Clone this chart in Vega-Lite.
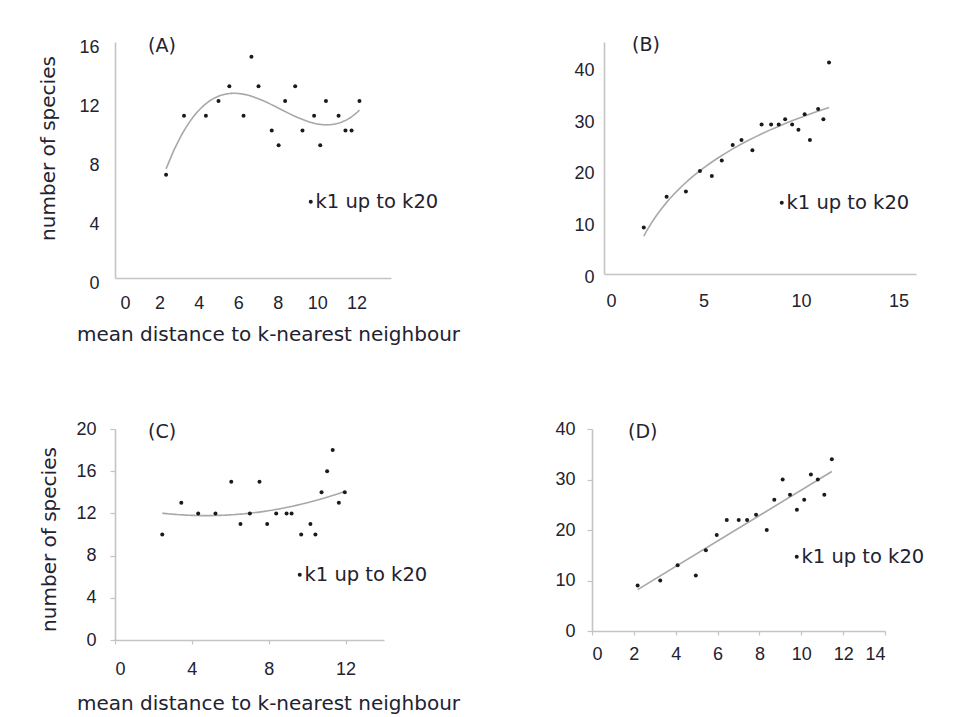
{
  "$schema": "https://vega.github.io/schema/vega-lite/v6.json",
  "background": "white",
  "padding": {"left": 38, "top": 36, "right": 5, "bottom": 5},
  "config": {
    "view": {"stroke": null},
    "axis": {
      "grid": false,
      "domainColor": "#c4c4c4",
      "domainWidth": 1.6,
      "tickColor": "#c4c4c4",
      "tickWidth": 1.2,
      "labelFont": "Liberation Sans",
      "labelFontSize": 18,
      "labelColor": "#222230",
      "titleFont": "DejaVu Sans",
      "titleFontSize": 20,
      "titleFontWeight": "normal",
      "titleColor": "#222230"
    },
    "legend": {
      "labelFont": "DejaVu Sans",
      "labelFontSize": 19.5,
      "labelColor": "#222230",
      "symbolType": "circle",
      "symbolSize": 16,
      "symbolStrokeWidth": 0,
      "padding": 0,
      "labelOffset": -5
    },
    "title": {
      "font": "DejaVu Sans",
      "fontSize": 19,
      "fontWeight": "normal",
      "color": "#222230",
      "anchor": "start",
      "frame": "group",
      "offset": 0,
      "baseline": "middle"
    }
  },
  "datasets": {
    "A": [
      {"d": 2.59, "s": 7}, {"d": 3.50, "s": 11}, {"d": 4.61, "s": 11}, {"d": 5.25, "s": 12},
      {"d": 5.80, "s": 13}, {"d": 6.52, "s": 11}, {"d": 6.92, "s": 15}, {"d": 7.28, "s": 13},
      {"d": 7.95, "s": 10}, {"d": 8.30, "s": 9}, {"d": 8.63, "s": 12}, {"d": 9.14, "s": 13},
      {"d": 9.51, "s": 10}, {"d": 10.10, "s": 11}, {"d": 10.41, "s": 9}, {"d": 10.70, "s": 12},
      {"d": 11.34, "s": 11}, {"d": 11.69, "s": 10}, {"d": 12.00, "s": 10}, {"d": 12.40, "s": 12}
    ],
    "B": [
      {"d": 2.04, "s": 9}, {"d": 3.21, "s": 15}, {"d": 4.20, "s": 16}, {"d": 4.92, "s": 20},
      {"d": 5.53, "s": 19}, {"d": 6.04, "s": 22}, {"d": 6.60, "s": 25}, {"d": 7.05, "s": 26},
      {"d": 7.61, "s": 24}, {"d": 8.08, "s": 29}, {"d": 8.57, "s": 29}, {"d": 8.96, "s": 29},
      {"d": 9.29, "s": 30}, {"d": 9.65, "s": 29}, {"d": 9.97, "s": 28}, {"d": 10.29, "s": 31},
      {"d": 10.56, "s": 26}, {"d": 10.98, "s": 32}, {"d": 11.25, "s": 30}, {"d": 11.54, "s": 41}
    ],
    "C": [
      {"d": 2.46, "s": 10}, {"d": 3.45, "s": 13}, {"d": 4.33, "s": 12}, {"d": 5.23, "s": 12},
      {"d": 6.05, "s": 15}, {"d": 6.53, "s": 11}, {"d": 7.02, "s": 12}, {"d": 7.52, "s": 15},
      {"d": 7.92, "s": 11}, {"d": 8.39, "s": 12}, {"d": 8.93, "s": 12}, {"d": 9.19, "s": 12},
      {"d": 9.69, "s": 10}, {"d": 10.17, "s": 11}, {"d": 10.43, "s": 10}, {"d": 10.75, "s": 14},
      {"d": 11.04, "s": 16}, {"d": 11.33, "s": 18}, {"d": 11.65, "s": 13}, {"d": 11.96, "s": 14}
    ],
    "D": [
      {"d": 2.18, "s": 9}, {"d": 3.26, "s": 10}, {"d": 4.09, "s": 13}, {"d": 4.96, "s": 11},
      {"d": 5.44, "s": 16}, {"d": 5.96, "s": 19}, {"d": 6.44, "s": 22}, {"d": 7.01, "s": 22},
      {"d": 7.41, "s": 22}, {"d": 7.84, "s": 23}, {"d": 8.35, "s": 20}, {"d": 8.71, "s": 26},
      {"d": 9.11, "s": 30}, {"d": 9.46, "s": 27}, {"d": 9.79, "s": 24}, {"d": 10.14, "s": 26},
      {"d": 10.46, "s": 31}, {"d": 10.79, "s": 30}, {"d": 11.10, "s": 27}, {"d": 11.46, "s": 34}
    ]
  },
  "bounds": "flush",
  "spacing": 387,
  "resolve": {"scale": {"color": "independent"}, "legend": {"color": "independent"}},
  "vconcat": [
    {
      "bounds": "flush",
      "spacing": 213,
      "resolve": {"scale": {"color": "independent"}, "legend": {"color": "independent"}},
      "hconcat": [
        {
          "width": 276, "height": 236,
          "title": {"text": "(A)", "dx": 33, "dy": 22},
          "data": {"name": "A"},
          "layer": [
            {
              "transform": [{"regression": "s", "on": "d", "method": "poly", "order": 3}],
              "mark": {"type": "line", "color": "#a8a8a8", "strokeWidth": 1.6},
              "encoding": {
                "x": {"field": "d", "type": "quantitative"},
                "y": {"field": "s", "type": "quantitative"}
              }
            },
            {
              "mark": {"type": "point", "filled": true, "shape": "circle", "size": 16, "opacity": 1},
              "encoding": {
                "x": {"field": "d", "type": "quantitative", "scale": {"domain": [0, 13.2]},
                  "axis": {"title": "mean distance to k-nearest neighbour", "values": [0, 2, 4, 6, 8, 10, 12], "ticks": false, "labelPadding": 16, "labelOffset": 5, "titlePadding": 12, "titleX": 153}},
                "y": {"field": "s", "type": "quantitative", "scale": {"domain": [0, 16]},
                  "axis": {"title": "number of species", "values": [0, 4, 8, 12, 16], "ticks": false, "labelPadding": 16, "labelOffset": 5, "titlePadding": 20, "titleY": 106}},
                "color": {"datum": "k1 up to k20", "type": "nominal", "scale": {"range": ["#1a1a1a"]},
                  "legend": {"title": null, "orient": "none", "legendX": 186, "legendY": 150}}
              }
            }
          ]
        },
        {
          "width": 312, "height": 232,
          "title": {"text": "(B)", "dx": 28, "dy": 17},
          "data": {"name": "B"},
          "layer": [
            {
              "transform": [{"regression": "s", "on": "d", "method": "log"}],
              "mark": {"type": "line", "color": "#a8a8a8", "strokeWidth": 1.6},
              "encoding": {
                "x": {"field": "d", "type": "quantitative"},
                "y": {"field": "s", "type": "quantitative"}
              }
            },
            {
              "mark": {"type": "point", "filled": true, "shape": "circle", "size": 16, "opacity": 1},
              "encoding": {
                "x": {"field": "d", "type": "quantitative", "scale": {"domain": [0, 15]},
                  "axis": {"title": null, "values": [0, 5, 10, 15], "ticks": false, "labelPadding": 18, "labelOffset": 2}},
                "y": {"field": "s", "type": "quantitative", "scale": {"domain": [0, 45]},
                  "axis": {"title": null, "values": [0, 10, 20, 30, 40], "ticks": false, "labelPadding": 10, "labelOffset": 3}},
                "color": {"datum": "k1 up to k20", "type": "nominal", "scale": {"range": ["#1a1a1a"]},
                  "legend": {"title": null, "orient": "none", "legendX": 168, "legendY": 151}}
              }
            }
          ]
        }
      ]
    },
    {
      "bounds": "flush",
      "spacing": 208,
      "resolve": {"scale": {"color": "independent"}, "legend": {"color": "independent"}},
      "hconcat": [
        {
          "width": 269, "height": 211,
          "title": {"text": "(C)", "dx": 33, "dy": 26},
          "data": {"name": "C"},
          "layer": [
            {
              "transform": [{"regression": "s", "on": "d", "method": "poly", "order": 2}],
              "mark": {"type": "line", "color": "#a8a8a8", "strokeWidth": 1.6},
              "encoding": {
                "x": {"field": "d", "type": "quantitative"},
                "y": {"field": "s", "type": "quantitative"}
              }
            },
            {
              "mark": {"type": "point", "filled": true, "shape": "circle", "size": 16, "opacity": 1},
              "encoding": {
                "x": {"field": "d", "type": "quantitative", "scale": {"domain": [0, 14]},
                  "axis": {"title": "mean distance to k-nearest neighbour", "values": [0, 2, 4, 6, 8, 10, 12, 14],
                    "labelExpr": "datum.value % 4 == 0 || datum.value == 14 ? datum.label : ''",
                    "tickSize": 4, "labelPadding": 16, "titlePadding": 15, "titleX": 153}},
                "y": {"field": "s", "type": "quantitative", "scale": {"domain": [0, 20]},
                  "axis": {"title": "number of species", "values": [0, 2, 4, 6, 8, 10, 12, 14, 16, 18, 20],
                    "labelExpr": "datum.value % 4 == 0 ? datum.label : ''",
                    "tickSize": 5, "labelPadding": 14, "titlePadding": 16, "titleY": 110}},
                "color": {"datum": "k1 up to k20", "type": "nominal", "scale": {"range": ["#1a1a1a"]},
                  "legend": {"title": null, "orient": "none", "legendX": 175, "legendY": 136}}
              }
            }
          ]
        },
        {
          "width": 293, "height": 202,
          "title": {"text": "(D)", "dx": 36, "dy": 26},
          "data": {"name": "D"},
          "layer": [
            {
              "transform": [{"regression": "s", "on": "d", "method": "linear"}],
              "mark": {"type": "line", "color": "#a8a8a8", "strokeWidth": 1.6},
              "encoding": {
                "x": {"field": "d", "type": "quantitative"},
                "y": {"field": "s", "type": "quantitative"}
              }
            },
            {
              "mark": {"type": "point", "filled": true, "shape": "circle", "size": 16, "opacity": 1},
              "encoding": {
                "x": {"field": "d", "type": "quantitative", "scale": {"domain": [0, 14]},
                  "axis": {"title": null, "values": [0, 2, 4, 6, 8, 10, 12, 14], "tickSize": 4, "labelPadding": 10}},
                "y": {"field": "s", "type": "quantitative", "scale": {"domain": [0, 40]},
                  "axis": {"title": null, "values": [0, 5, 10, 15, 20, 25, 30, 35, 40],
                    "labelExpr": "datum.value % 10 == 0 ? datum.label : ''",
                    "tickSize": 5, "labelPadding": 12}},
                "color": {"datum": "k1 up to k20", "type": "nominal", "scale": {"range": ["#1a1a1a"]},
                  "legend": {"title": null, "orient": "none", "legendX": 195, "legendY": 118}}
              }
            }
          ]
        }
      ]
    }
  ]
}
